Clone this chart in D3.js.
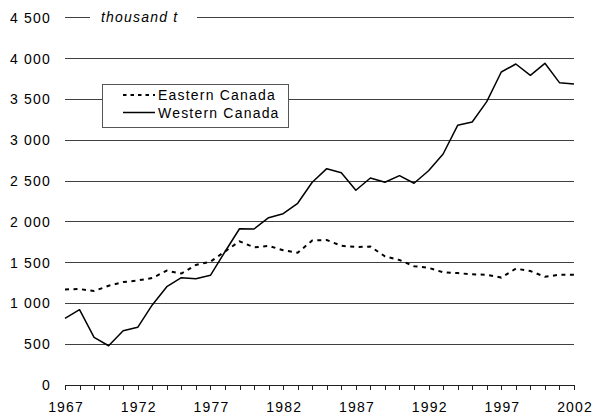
<html>
<head>
    <title>Canada - thousand t</title>
    <style>
        body { margin: 0; background: white; }
        svg text {
            font-family: "Liberation Sans", Arial, sans-serif;
            font-size: 14px;
            fill: #000;
            letter-spacing: 1.2px;
        }
        .grid line { stroke: #404040; stroke-width: 1; shape-rendering: crispEdges; }
        .grid .domain { display: none; }
        .xaxis line, .xaxis path { stroke: #202020; shape-rendering: crispEdges; }
    </style>
    <script src="https://d3js.org/d3.v7.min.js"></script>
</head>
<body>
<div id="chart"></div>
<script>
    var years = [1967, 1968, 1969, 1970, 1971, 1972, 1973, 1974, 1975, 1976, 1977, 1978,
                 1979, 1980, 1981, 1982, 1983, 1984, 1985, 1986, 1987, 1988, 1989, 1990,
                 1991, 1992, 1993, 1994, 1995, 1996, 1997, 1998, 1999, 2000, 2001, 2002];

    // thousand t
    var eastern = [1165, 1170, 1145, 1210, 1255, 1275, 1305, 1395, 1360, 1465, 1505, 1630,
                   1755, 1680, 1700, 1645, 1615, 1765, 1770, 1700, 1685, 1690, 1570, 1525,
                   1450, 1430, 1375, 1365, 1350, 1345, 1310, 1420, 1390, 1320, 1345, 1345];

    var western = [810, 917, 578, 475, 659, 701, 975, 1199, 1309, 1297, 1338, 1627,
                   1909, 1906, 2044, 2093, 2221, 2478, 2645, 2596, 2380, 2531, 2478, 2559,
                   2466, 2620, 2825, 3176, 3217, 3466, 3830, 3928, 3789, 3936, 3699, 3683];

    var yTicks = [0, 500, 1000, 1500, 2000, 2500, 3000, 3500, 4000, 4500];
    var xLabels = [1967, 1972, 1977, 1982, 1987, 1992, 1997, 2002];
    var seriesNames = ['Eastern Canada', 'Western Canada'];

    var chartW = 594, chartH = 418;
    var plotLeft = 65, plotRight = 574, plotTop = 17.3, plotBottom = 384.5;
    var labelFont = '"Liberation Sans", Arial, sans-serif';

    var svg = d3.select('#chart')
            .append('svg')
            .attr('width', chartW)
            .attr('height', chartH);

    var x = d3.scaleLinear().domain([1967, 2002]).range([plotLeft, plotRight]);
    var y = d3.scaleLinear().domain([0, 4500]).range([plotBottom, plotTop]);

    var fmt = d3.formatLocale({ decimal: '.', thousands: ' ', grouping: [3], currency: ['', ''] }).format(',');

    // gridlines (not at zero, the axis is there)
    svg.append('g')
            .attr('class', 'grid')
            .attr('transform', 'translate(' + plotLeft + ',0)')
            .call(d3.axisLeft(y)
                .tickValues(yTicks.filter(function(d) { return d > 0; }))
                .tickSize(-(plotRight - plotLeft))
                .tickFormat(''));

    // y labels
    var yAxis = svg.append('g')
            .attr('transform', 'translate(' + (plotLeft - 14) + ',0)')
            .call(d3.axisLeft(y).tickValues(yTicks).tickSize(0).tickPadding(0).tickFormat(fmt));
    yAxis.select('.domain').remove();
    yAxis.selectAll('text')
            .attr('dy', '0.36em')
            .style('font-size', '14px')
            .style('font-family', labelFont);

    // x axis with a tick every year
    var xAxis = svg.append('g')
            .attr('class', 'xaxis')
            .attr('transform', 'translate(0,' + plotBottom + ')')
            .call(d3.axisBottom(x)
                .tickValues(years)
                .tickSize(5)
                .tickSizeOuter(0)
                .tickPadding(13)
                .tickFormat(function(d) { return xLabels.indexOf(d) >= 0 ? d : ''; }));
    xAxis.selectAll('text')
            .style('font-size', '14px')
            .style('font-family', labelFont)
            .attr('dx', '0.6');

    // unit label over the top gridline
    svg.append('rect')
            .attr('x', 90)
            .attr('y', 8)
            .attr('width', 107)
            .attr('height', 18)
            .attr('fill', 'white');
    svg.append('text')
            .attr('x', 101)
            .attr('y', y(4500))
            .attr('dy', '0.36em')
            .style('font-style', 'italic')
            .text('thousand t');

    var line = d3.line()
            .x(function(d, i) { return x(years[i]); })
            .y(function(d) { return y(d); });

    svg.append('path')
            .datum(eastern)
            .attr('d', line)
            .attr('fill', 'none')
            .attr('stroke', '#000')
            .attr('stroke-width', 2)
            .attr('stroke-dasharray', '4,4.5');

    svg.append('path')
            .datum(western)
            .attr('d', line)
            .attr('fill', 'none')
            .attr('stroke', '#000')
            .attr('stroke-width', 1.5)
            .attr('stroke-linejoin', 'round');

    // legend
    var legend = svg.append('g');
    legend.append('rect')
            .attr('x', 102.5)
            .attr('y', 84.5)
            .attr('width', 186)
            .attr('height', 43)
            .attr('fill', 'white')
            .attr('stroke', '#555')
            .attr('stroke-width', 1);

    var rows = legend.selectAll('g.row')
            .data(seriesNames)
        .enter().append('g')
            .attr('class', 'row')
            .attr('transform', function(d, i) { return 'translate(0,' + (95 + i * 17.5) + ')'; });

    rows.append('line')
            .attr('x1', 123)
            .attr('x2', 155)
            .attr('stroke', '#000')
            .attr('stroke-width', function(d, i) { return i === 0 ? 2 : 1.5; })
            .attr('stroke-dasharray', function(d, i) { return i === 0 ? '3.5,4' : null; });

    rows.append('text')
            .attr('x', 158)
            .attr('dy', '0.36em')
            .text(function(d) { return d; });
</script>
</body>
</html>
